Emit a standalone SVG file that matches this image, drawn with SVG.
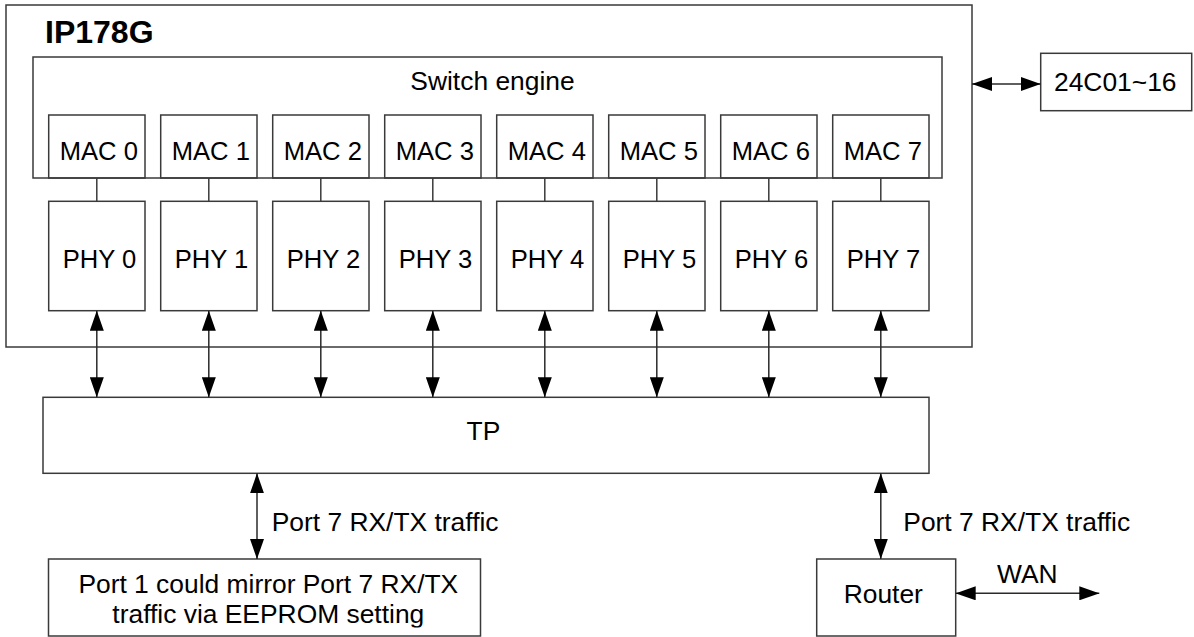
<svg xmlns="http://www.w3.org/2000/svg" width="1194" height="637" viewBox="0 0 1194 637">
<style>
.box{fill:none;stroke:#3a3a3a;stroke-width:1.5}
.ln{fill:none;stroke:#3a3a3a;stroke-width:1.5}
.arr{fill:none;stroke:#2a2a2a;stroke-width:1.5;marker-start:url(#ah);marker-end:url(#ah)}
text{font-family:"Liberation Sans",Arial,Helvetica,sans-serif;font-size:26.4px;fill:#000}
.c{text-anchor:middle}
.mp{font-size:25.6px;text-anchor:middle}
.title{font-weight:bold;font-size:32px}
</style>
<defs>
<marker id="ah" viewBox="0 0 20 14" refX="20" refY="7" markerWidth="20" markerHeight="14" markerUnits="userSpaceOnUse" orient="auto-start-reverse">
<path d="M0,0 L20,7 L0,14 z" fill="#000"/>
</marker>
<clipPath id="clipP1"><rect x="48" y="559" width="434" height="68.5"/></clipPath>
</defs>
<rect width="1194" height="637" fill="#fff"/>

<g id="ip178g">
<rect class="box" x="6" y="5" width="966" height="342"/>
<text class="title" x="45" y="43.3">IP178G</text>
</g>

<g id="switch-engine">
<rect class="box" x="33" y="57" width="909" height="121"/>
<text class="c" x="492.5" y="90">Switch engine</text>
</g>

<g id="mac0"><rect class="box" x="48.7" y="115" width="96.3" height="63"/><text class="mp" x="98.8" y="160">MAC 0</text></g>
<g id="mac1"><rect class="box" x="160.7" y="115" width="96.3" height="63"/><text class="mp" x="210.8" y="160">MAC 1</text></g>
<g id="mac2"><rect class="box" x="272.7" y="115" width="96.3" height="63"/><text class="mp" x="322.8" y="160">MAC 2</text></g>
<g id="mac3"><rect class="box" x="384.7" y="115" width="96.3" height="63"/><text class="mp" x="434.8" y="160">MAC 3</text></g>
<g id="mac4"><rect class="box" x="496.7" y="115" width="96.3" height="63"/><text class="mp" x="546.8" y="160">MAC 4</text></g>
<g id="mac5"><rect class="box" x="608.7" y="115" width="96.3" height="63"/><text class="mp" x="658.8" y="160">MAC 5</text></g>
<g id="mac6"><rect class="box" x="720.7" y="115" width="96.3" height="63"/><text class="mp" x="770.8" y="160">MAC 6</text></g>
<g id="mac7"><rect class="box" x="832.7" y="115" width="96.3" height="63"/><text class="mp" x="882.8" y="160">MAC 7</text></g>

<g id="phy0"><rect class="box" x="48.7" y="201.3" width="96.3" height="109.4"/><text class="mp" x="99.5" y="268">PHY 0</text></g>
<g id="phy1"><rect class="box" x="160.7" y="201.3" width="96.3" height="109.4"/><text class="mp" x="211.5" y="268">PHY 1</text></g>
<g id="phy2"><rect class="box" x="272.7" y="201.3" width="96.3" height="109.4"/><text class="mp" x="323.5" y="268">PHY 2</text></g>
<g id="phy3"><rect class="box" x="384.7" y="201.3" width="96.3" height="109.4"/><text class="mp" x="435.5" y="268">PHY 3</text></g>
<g id="phy4"><rect class="box" x="496.7" y="201.3" width="96.3" height="109.4"/><text class="mp" x="547.5" y="268">PHY 4</text></g>
<g id="phy5"><rect class="box" x="608.7" y="201.3" width="96.3" height="109.4"/><text class="mp" x="659.5" y="268">PHY 5</text></g>
<g id="phy6"><rect class="box" x="720.7" y="201.3" width="96.3" height="109.4"/><text class="mp" x="771.5" y="268">PHY 6</text></g>
<g id="phy7"><rect class="box" x="832.7" y="201.3" width="96.3" height="109.4"/><text class="mp" x="883.5" y="268">PHY 7</text></g>

<g id="eeprom">
<rect class="box" x="1040.7" y="53.3" width="151" height="57.4"/>
<text x="1054" y="90.7">24C01~16</text>
</g>

<g id="tp">
<rect class="box" x="43" y="397.3" width="886" height="76"/>
<text class="c" x="483.4" y="440">TP</text>
</g>

<g id="mirror-port">
<rect class="box" x="48.5" y="559" width="432" height="77"/>
<g clip-path="url(#clipP1)">
<text class="c" x="268.3" y="593.3">Port 1 could mirror Port 7 RX/TX</text>
<text class="c" x="268.3" y="623.3">traffic via EEPROM setting</text>
</g>
</g>

<g id="router">
<rect class="box" x="816.7" y="559" width="139" height="77"/>
<text class="c" x="883.3" y="602.7">Router</text>
</g>

<g id="connectors">
<line class="ln" x1="96.8" y1="178" x2="96.8" y2="201.3"/>
<line class="ln" x1="208.8" y1="178" x2="208.8" y2="201.3"/>
<line class="ln" x1="320.8" y1="178" x2="320.8" y2="201.3"/>
<line class="ln" x1="432.8" y1="178" x2="432.8" y2="201.3"/>
<line class="ln" x1="544.8" y1="178" x2="544.8" y2="201.3"/>
<line class="ln" x1="656.8" y1="178" x2="656.8" y2="201.3"/>
<line class="ln" x1="768.8" y1="178" x2="768.8" y2="201.3"/>
<line class="ln" x1="880.8" y1="178" x2="880.8" y2="201.3"/>

<line class="arr" x1="96.8" y1="310.7" x2="96.8" y2="397.3"/>
<line class="arr" x1="208.8" y1="310.7" x2="208.8" y2="397.3"/>
<line class="arr" x1="320.8" y1="310.7" x2="320.8" y2="397.3"/>
<line class="arr" x1="432.8" y1="310.7" x2="432.8" y2="397.3"/>
<line class="arr" x1="544.8" y1="310.7" x2="544.8" y2="397.3"/>
<line class="arr" x1="656.8" y1="310.7" x2="656.8" y2="397.3"/>
<line class="arr" x1="768.8" y1="310.7" x2="768.8" y2="397.3"/>
<line class="arr" x1="880.8" y1="310.7" x2="880.8" y2="397.3"/>

<line class="arr" x1="972" y1="84" x2="1040.7" y2="84"/>

<line class="arr" x1="257" y1="473.3" x2="257" y2="559"/>
<text x="271.7" y="530.7">Port 7 RX/TX traffic</text>

<line class="arr" x1="880.8" y1="473.3" x2="880.8" y2="559"/>
<text x="903.3" y="530.7">Port 7 RX/TX traffic</text>

<line class="arr" x1="955.7" y1="593.3" x2="1099.3" y2="593.3"/>
<text class="c" x="1027.3" y="582.7">WAN</text>
</g>
</svg>
